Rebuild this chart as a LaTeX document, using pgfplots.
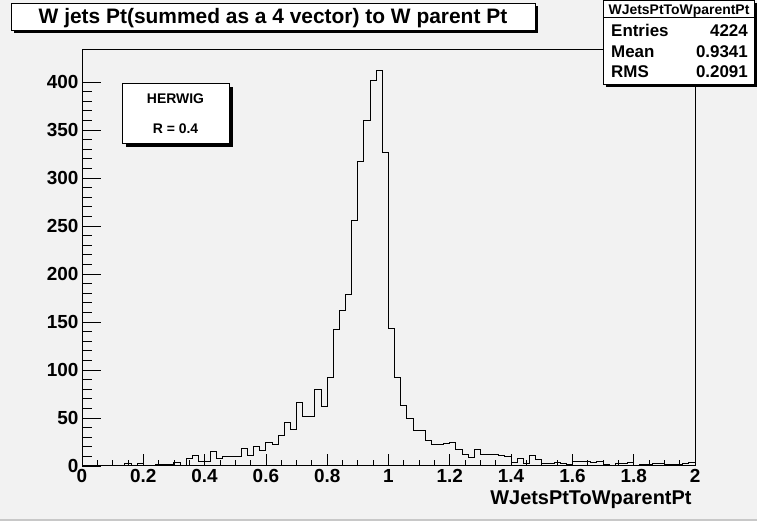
\documentclass[border=0pt]{standalone}
\usepackage{fontspec}
\setmainfont{Liberation Sans}
\usepackage{pgfplots}
\pgfplotsset{compat=1.18}
\definecolor{bg}{HTML}{F2F2F2}
\definecolor{edge}{HTML}{C8C8C8}
\begin{document}
\begin{tikzpicture}[x=1bp,y=1bp]
\fill[bg] (0,0) rectangle (757,521);
\fill[edge] (0,0) rectangle (757,1.5);
\begin{axis}[
  at={(82bp,55bp)}, anchor=origin,
  scale only axis, width=613bp, height=416bp,
  xmin=0, xmax=2, ymin=0, ymax=433.3,
  axis line style={line width=1bp},
  xtick={0,0.2,0.4,0.6,0.8,1,1.2,1.4,1.6,1.8,2},
  xticklabels={0,0.2,0.4,0.6,0.8,1,1.2,1.4,1.6,1.8,2},
  minor x tick num=3,
  ytick={0,50,100,150,200,250,300,350,400},
  minor y tick num=4,
  tick align=inside, xtick pos=left, ytick pos=left,
  xtick style={black, line width=0.8bp, /pgfplots/major tick length=12bp, /pgfplots/minor tick length=6bp},
  ytick style={black, line width=0.8bp, /pgfplots/major tick length=19bp, /pgfplots/minor tick length=10bp},
  tick label style={font=\fontsize{19}{19}\selectfont\bfseries},
  /pgf/number format/assume math mode=true,
  xlabel={WJetsPtToWparentPt},
  xlabel style={font=\fontsize{20}{20}\selectfont\bfseries, at={(axis description cs:1,0)}, anchor=base east, yshift=-39bp},
]
\addplot[const plot, black, line width=1bp] coordinates {
(0.00,0) (0.02,0) (0.04,1) (0.06,1) (0.08,1) (0.10,1) (0.12,1) (0.14,3) (0.16,1) (0.18,3)
(0.20,0) (0.22,0) (0.24,2) (0.26,2) (0.28,2) (0.30,4) (0.32,1) (0.34,8) (0.36,11) (0.38,5)
(0.40,5) (0.42,15) (0.44,8) (0.46,10) (0.48,10) (0.50,10) (0.52,18) (0.54,11) (0.56,20) (0.58,16)
(0.60,24) (0.62,22) (0.64,32) (0.66,45) (0.68,38) (0.70,66) (0.72,52) (0.74,52) (0.76,80) (0.78,62)
(0.80,92) (0.82,142) (0.84,162) (0.86,179) (0.88,256) (0.90,317) (0.92,360) (0.94,402) (0.96,412) (0.98,327)
(1.00,143) (1.02,92) (1.04,63) (1.06,49) (1.08,37) (1.10,37) (1.12,27) (1.14,22) (1.16,22) (1.18,23)
(1.20,24) (1.22,17) (1.24,12) (1.26,9) (1.28,17) (1.30,12) (1.32,12) (1.34,12) (1.36,11) (1.38,10)
(1.40,4) (1.42,8) (1.44,3) (1.46,11) (1.48,7) (1.50,3) (1.52,3) (1.54,4) (1.56,3) (1.58,2)
(1.60,5) (1.62,5) (1.64,5) (1.66,4) (1.68,5) (1.70,2) (1.72,1) (1.74,3) (1.76,3) (1.78,4)
(1.80,1) (1.82,2) (1.84,2) (1.86,3) (1.88,3) (1.90,2) (1.92,2) (1.94,2) (1.96,3) (1.98,4)
(2.00,4)
};
\end{axis}
% title box
\fill[black] (14,488) rectangle (538,515);
\filldraw[fill=white,draw=black,line width=0.8bp] (11,491) rectangle (535,518);
\node[anchor=base, inner sep=0pt, font=\fontsize{21}{21}\selectfont\bfseries] at (273,497) {W jets Pt(summed as a 4 vector) to W parent Pt};
% stats box
\fill[black] (606,434) rectangle (757,518);
\filldraw[fill=white,draw=black,line width=0.8bp] (603,437) rectangle (754,520.5);
\draw[line width=0.8bp] (603,503.5) -- (754,503.5);
\node[anchor=base, inner sep=0pt, font=\fontsize{14}{14}\selectfont\bfseries] at (679,506) {WJetsPtToWparentPt};
\begin{scope}[every node/.style={inner sep=0pt, font=\fontsize{17}{17}\selectfont\bfseries}]
\node[anchor=base west] at (611,484) {Entries};
\node[anchor=base east] at (748,484) {4224};
\node[anchor=base west] at (611,463) {Mean};
\node[anchor=base east] at (748,463) {0.9341};
\node[anchor=base west] at (611,443) {RMS};
\node[anchor=base east] at (748,443) {0.2091};
\end{scope}
% HERWIG box
\fill[black] (126,374) rectangle (233,434);
\filldraw[fill=white,draw=black,line width=0.8bp] (122,378) rectangle (229,438);
\node[anchor=base, inner sep=0pt, font=\fontsize{14}{14}\selectfont\bfseries] at (175.5,417) {HERWIG};
\node[anchor=base, inner sep=0pt, font=\fontsize{14}{14}\selectfont\bfseries] at (175.5,387) {R = 0.4};
\end{tikzpicture}
\end{document}
